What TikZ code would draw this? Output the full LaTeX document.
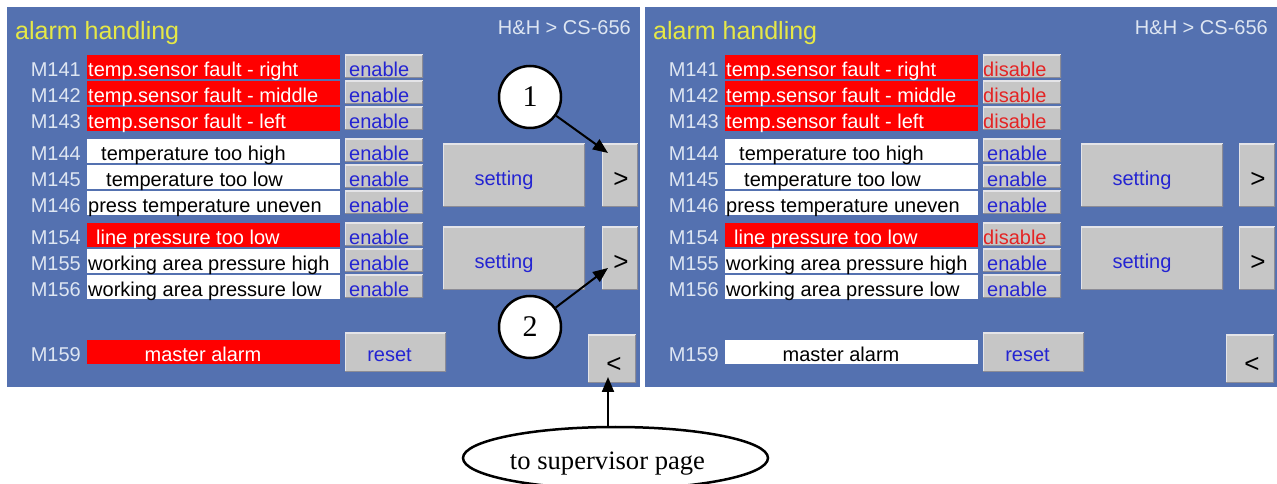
\documentclass[tikz,border=0pt]{standalone}
\usepackage{fontspec}
\setmainfont{Liberation Sans}
\newfontfamily\tnr{Liberation Serif}
\usetikzlibrary{shapes.geometric,arrows.meta}
\definecolor{panelblue}{RGB}{84,113,176}
\definecolor{btngray}{RGB}{198,198,198}
\definecolor{btnlight}{RGB}{228,228,232}
\definecolor{btndark}{RGB}{140,140,150}
\definecolor{labwhite}{RGB}{222,230,242}
\definecolor{titley}{RGB}{230,232,70}
\definecolor{btnblue}{RGB}{36,36,210}
\definecolor{disred}{RGB}{228,36,36}
\definecolor{alred}{RGB}{255,0,0}
% #1 name, #2 x offset, #3 top, #4 label, #5 fill, #6 text colour, #7 text x, #8 text, #9 button text
\newcommand\alrow[9]{%
  \node[rowbox, fill=#5] (#1) at ({#2+213.5},{#3+12}) {};
  \node[mlab, anchor=base east] (#1l) at ({#2+81},{#3+22}) {#4};
  \node[txt, text=#6, anchor=base west] (#1t) at ({#2+#7},{#3+22}) {#8};
  \node[btn, minimum width=78bp, minimum height=23bp] (#1b) at ({#2+384},{#3+11.5}) {};
  \node[txt, anchor=base west] (#1bt) at ({#2+349},{#3+22}) {#9};
}
\newcommand\enb{\color{btnblue}enable}
\newcommand\dsb{\kern-4bp\color{disred}disable}
\begin{document}
\begin{tikzpicture}[x=1bp,y=-1bp,
  txt/.style={inner sep=0pt, font=\fontsize{20bp}{24bp}\selectfont},
  mlab/.style={txt, text=labwhite},
  rowbox/.style={rectangle, inner sep=0pt, minimum width=253bp, minimum height=24bp},
  btn/.style={rectangle, fill=btngray, inner sep=0pt,
    path picture={
      \draw[btnlight, line width=2.4bp] (path picture bounding box.south west) -- (path picture bounding box.north west) -- (path picture bounding box.north east);
      \draw[btndark, line width=2.4bp] (path picture bounding box.north east) -- (path picture bounding box.south east) -- (path picture bounding box.south west);}},
  bigsym/.style={inner sep=0pt, font=\fontsize{26bp}{28bp}\selectfont},
  numcirc/.style={circle, draw=black, fill=white, line width=2.5bp, minimum size=62bp, inner sep=0pt, font=\tnr\fontsize{30bp}{32bp}\selectfont},
  arr/.style={draw=black, line width=2bp, -{Triangle[length=15bp,width=12bp]}}
]
\useasboundingbox (0,0) rectangle (1277,484);
\fill[white] (0,0) rectangle (1277,484);
% panels
\fill[panelblue] (7,7) rectangle (640,387);
\fill[panelblue] (645,7) rectangle (1277,387);
\node[rectangle, inner sep=0pt, minimum width=633bp, minimum height=380bp] (panL) at (323.5,197) {};
\node[rectangle, inner sep=0pt, minimum width=632bp, minimum height=380bp] (panR) at (961,197) {};

% ---------- left panel ----------
\node[txt, text=titley, anchor=base west, font=\fontsize{25bp}{28bp}\selectfont] (titL) at (15,40) {alarm handling};
\node[txt, text=labwhite, anchor=base east] (hhL) at (631,35) {H\&H > CS-656};
\alrow{L141}{0}{55}{M141}{alred}{white}{88}{temp.sensor fault - right}{\enb}
\alrow{L142}{0}{81}{M142}{alred}{white}{88}{temp.sensor fault - middle}{\enb}
\alrow{L143}{0}{107}{M143}{alred}{white}{88}{temp.sensor fault - left}{\enb}
\alrow{L144}{0}{139}{M144}{white}{black}{101}{temperature too high}{\enb}
\alrow{L145}{0}{165}{M145}{white}{black}{106}{temperature too low}{\enb}
\alrow{L146}{0}{191}{M146}{white}{black}{88}{press temperature uneven}{\enb}
\alrow{L154}{0}{223}{M154}{alred}{white}{96}{line pressure too low}{\enb}
\alrow{L155}{0}{249}{M155}{white}{black}{88}{working area pressure high}{\enb}
\alrow{L156}{0}{275}{M156}{white}{black}{88}{working area pressure low}{\enb}
\node[rowbox, fill=alred] (L159) at (213.5,352) {};
\node[mlab, anchor=base east] (L159l) at (81,362) {M159};
\node[txt, text=white, anchor=base] (L159t) at (203,362) {master alarm};
\node[btn, minimum width=101bp, minimum height=39bp] (rstL) at (395.5,352.5) {};
\node[txt, text=btnblue, anchor=base] (rstLt) at (389.5,362) {reset};
\node[btn, minimum width=142bp, minimum height=63bp] (s1L) at (514,175.5) {};
\node[txt, text=btnblue, anchor=base] (s1Lt) at (504,186) {setting};
\node[btn, minimum width=142bp, minimum height=63bp] (s2L) at (514,258.5) {};
\node[txt, text=btnblue, anchor=base] (s2Lt) at (504,269) {setting};
\node[btn, minimum width=36bp, minimum height=63bp] (g1L) at (620,175.5) {};
\node[bigsym, anchor=base] (g1Lt) at (621,188) {>};
\node[btn, minimum width=36bp, minimum height=63bp] (g2L) at (620,258.5) {};
\node[bigsym, anchor=base] (g2Lt) at (621,271) {>};
\node[btn, minimum width=48bp, minimum height=48bp] (bkL) at (612,359) {};
\node[bigsym, anchor=base] (bkLt) at (614,373) {<};

% ---------- right panel ----------
\node[txt, text=titley, anchor=base west, font=\fontsize{25bp}{28bp}\selectfont] (titR) at (653,40) {alarm handling};
\node[txt, text=labwhite, anchor=base east] (hhR) at (1268,35) {H\&H > CS-656};
\alrow{R141}{638}{55}{M141}{alred}{white}{88}{temp.sensor fault - right}{\dsb}
\alrow{R142}{638}{81}{M142}{alred}{white}{88}{temp.sensor fault - middle}{\dsb}
\alrow{R143}{638}{107}{M143}{alred}{white}{88}{temp.sensor fault - left}{\dsb}
\alrow{R144}{638}{139}{M144}{white}{black}{101}{temperature too high}{\enb}
\alrow{R145}{638}{165}{M145}{white}{black}{106}{temperature too low}{\enb}
\alrow{R146}{638}{191}{M146}{white}{black}{88}{press temperature uneven}{\enb}
\alrow{R154}{638}{223}{M154}{alred}{white}{96}{line pressure too low}{\dsb}
\alrow{R155}{638}{249}{M155}{white}{black}{88}{working area pressure high}{\enb}
\alrow{R156}{638}{275}{M156}{white}{black}{88}{working area pressure low}{\enb}
\node[rowbox, fill=white] (R159) at (851.5,352) {};
\node[mlab, anchor=base east] (R159l) at (719,362) {M159};
\node[txt, text=black, anchor=base] (R159t) at (841,362) {master alarm};
\node[btn, minimum width=101bp, minimum height=39bp] (rstR) at (1033.5,352.5) {};
\node[txt, text=btnblue, anchor=base] (rstRt) at (1027.5,362) {reset};
\node[btn, minimum width=142bp, minimum height=63bp] (s1R) at (1152,175.5) {};
\node[txt, text=btnblue, anchor=base] (s1Rt) at (1142,186) {setting};
\node[btn, minimum width=142bp, minimum height=63bp] (s2R) at (1152,258.5) {};
\node[txt, text=btnblue, anchor=base] (s2Rt) at (1142,269) {setting};
\node[btn, minimum width=36bp, minimum height=63bp] (g1R) at (1257,175.5) {};
\node[bigsym, anchor=base] (g1Rt) at (1258,188) {>};
\node[btn, minimum width=36bp, minimum height=63bp] (g2R) at (1257,258.5) {};
\node[bigsym, anchor=base] (g2Rt) at (1258,271) {>};
\node[btn, minimum width=48bp, minimum height=48bp] (bkR) at (1250,359) {};
\node[bigsym, anchor=base] (bkRt) at (1252,373) {<};

% ---------- callouts ----------
\node[numcirc] (c1) at (530,97) {1};
\node[numcirc] (c2) at (530,327) {2};
\coordinate (t1) at (608,153);
\coordinate (t2) at (608,268);
\coordinate (t3) at (608,377);
\draw[arr] (c1) -- (t1);
\draw[arr] (c2) -- (t2);
\node[ellipse, draw=black, fill=white, line width=2.5bp, minimum width=305bp, minimum height=62bp, inner sep=0pt] (sup) at (615.5,458) {};
\node[inner sep=0pt, anchor=base, font=\tnr\fontsize{26.6bp}{30bp}\selectfont] (supt) at (607.5,469) {to supervisor page};
\draw[arr] (t3 |- sup.north) -- (t3);
\end{tikzpicture}
\end{document}
